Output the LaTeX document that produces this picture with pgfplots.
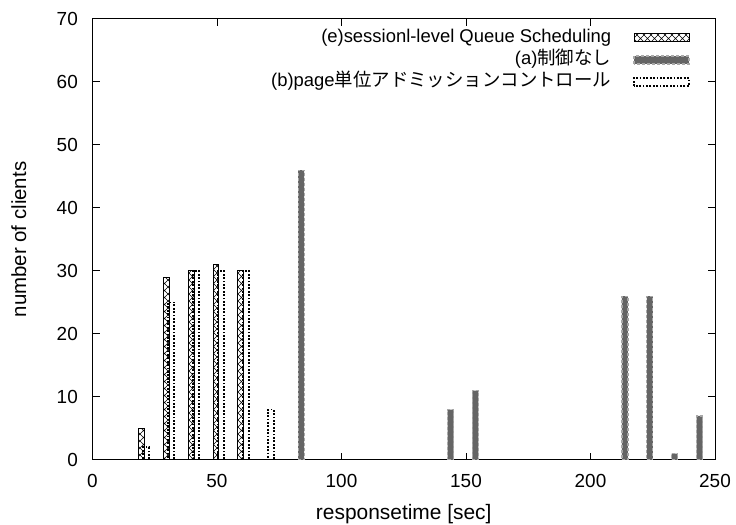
\documentclass[border=0pt]{standalone}
\usepackage{fontspec}
\setmainfont{Liberation Sans}
\newfontfamily\jp{Noto Sans CJK JP}
\usepackage{pgfplots}
\pgfplotsset{compat=1.18}
\usetikzlibrary{patterns,calc}

% diagonal cross-hatching used for the session-level bars
\pgfdeclarepatternformonly{xhatch}{\pgfqpoint{-1pt}{-1pt}}{\pgfqpoint{8pt}{8pt}}{\pgfpoint{7bp}{7bp}}{%
  \pgfsetlinewidth{0.6bp}%
  \pgfpathmoveto{\pgfpointorigin}\pgfpathlineto{\pgfpoint{7bp}{7bp}}%
  \pgfpathmoveto{\pgfpoint{0bp}{7bp}}\pgfpathlineto{\pgfpoint{7bp}{0bp}}%
  \pgfusepath{stroke}}

\definecolor{barfill}{HTML}{656565}
\definecolor{baredge}{HTML}{A8A8A8}

\pgfplotsset{
  gbar/.style={ybar, bar width=2.4, bar shift=0pt,
    legend image code/.code={\draw[##1] (0bp,-4bp) rectangle (55bp,4bp);}},
}

\begin{document}
\begin{tikzpicture}
\begin{axis}[
  scale only axis, width=622.5bp, height=441bp,
  xmin=0, xmax=250, ymin=0, ymax=70,
  xtick={0,50,...,250}, ytick={0,10,...,70},
  tick align=inside, major tick length=7bp,
  axis line style={line width=1bp},
  every tick/.style={line width=1bp, black},
  tick label style={font=\fontsize{19}{21}\selectfont},
  /pgf/number format/assume math mode=true,
  yticklabel style={inner sep=0pt, xshift=-14.5bp},
  xticklabel style={inner sep=0pt, yshift=-14bp},
  xlabel={responsetime [sec]},
  ylabel={number of clients},
  every axis x label/.style={at={(axis description cs:0.5,-0.136)}, anchor=base, font=\fontsize{21}{23}\selectfont},
  every axis y label/.style={at={(axis description cs:-0.1068,0.5)}, anchor=base, rotate=90, font=\fontsize{20.5}{22}\selectfont},
  legend plot pos=right,
  legend cell align=right,
  legend style={draw=none, fill=none, inner sep=0pt, outer sep=0pt,
    at={(rel axis cs:1,1)}, anchor=north east, xshift=-25bp, yshift=-10.5bp,
    column sep=22bp, row sep=5bp,
    font=\fontsize{18.5}{20}\selectfont,
    nodes={inner sep=0pt, text height=13bp, text depth=4bp}},
]
% (e) session-level queue scheduling
\addplot[gbar, draw=black, line width=1bp, pattern=xhatch] coordinates {
  (19.6,5) (29.6,29) (39.6,30) (49.6,31) (59.6,30)
};
\addlegendentry{(e)sessionl-level Queue Scheduling}
% (a) no control
\addplot[gbar, fill=barfill, draw=baredge, line width=1.3bp, dash pattern=on 3bp off 2bp] coordinates {
  (83.8,46) (143.8,8) (153.8,11) (213.8,26) (223.8,26) (233.8,1) (243.8,7)
};
\addlegendentry{(a){\jp 制御なし}}
% (b) page-level admission control
\addplot[gbar, fill=none, draw=black, line width=1.8bp, dash pattern=on 1.8bp off 1.6bp] coordinates {
  (21.6,2) (31.6,25) (41.6,30) (51.6,30) (61.6,30) (71.6,8)
};
\addlegendentry{(b)page{\jp 単位アドミッションコントロール}}
\end{axis}
\pgfresetboundingbox
\path[use as bounding box] ($(current axis.south west)+(-92.5bp,-65bp)$) rectangle ($(current axis.north east)+(21bp,19bp)$);
\end{tikzpicture}
\end{document}
